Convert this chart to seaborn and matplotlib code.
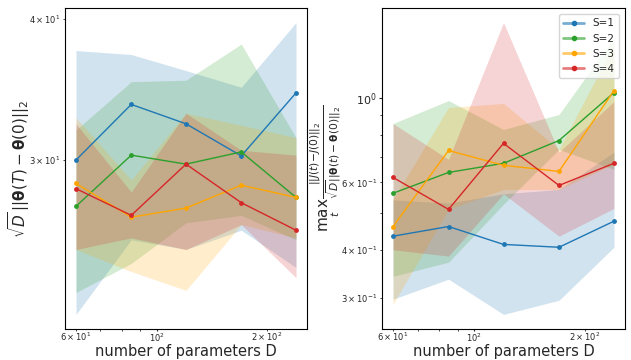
import matplotlib
matplotlib.use("Agg")
import matplotlib.pyplot as plt
import seaborn as sns
import pandas as pd
from matplotlib.lines import Line2D

# ---------------- data ----------------
D = [60, 85, 120, 170, 240]
labels = ["S=1", "S=2", "S=3", "S=4"]
colors = ["#1f77b4", "#2ca02c", "#FFA500", "#d62728"]

# left panel: sqrt(D)||theta(T)-theta(0)||_2
left_s1 = [30.0, 33.6, 32.3, 30.25, 34.4]
left_s2 = [27.3, 30.3, 29.75, 30.5, 27.8]
left_s3 = [28.6, 26.7, 27.2, 28.5, 27.8]
left_s4 = [28.3, 26.8, 29.75, 27.5, 26.0]
left_s1_lo = [21.9, 25.5, 25.0, 26.0, 24.1]
left_s1_hi = [37.5, 37.2, 36.0, 34.8, 39.7]
left_s2_lo = [22.9, 24.3, 26.4, 26.8, 25.5]
left_s2_hi = [31.9, 35.2, 35.3, 38.0, 31.4]
left_s3_lo = [25.0, 23.9, 23.0, 26.3, 25.6]
left_s3_hi = [32.7, 28.8, 33.0, 32.2, 31.4]
left_s4_lo = [25.0, 25.6, 25.0, 26.3, 23.6]
left_s4_hi = [32.3, 28.1, 33.0, 30.6, 30.3]

# right panel: max_t ratio
right_s1 = [0.434, 0.460, 0.413, 0.406, 0.475]
right_s2 = [0.562, 0.637, 0.673, 0.772, 1.03]
right_s3 = [0.460, 0.727, 0.665, 0.641, 1.043]
right_s4 = [0.618, 0.510, 0.759, 0.589, 0.673]
right_s1_lo = [0.297, 0.335, 0.271, 0.295, 0.406]
right_s1_hi = [0.540, 0.530, 0.560, 0.575, 0.720]
right_s2_lo = [0.341, 0.371, 0.526, 0.732, 0.649]
right_s2_hi = [0.855, 0.982, 0.825, 0.903, 1.434]
right_s3_lo = [0.288, 0.510, 0.575, 0.575, 0.670]
right_s3_hi = [0.542, 0.942, 0.965, 0.732, 1.375]
right_s4_lo = [0.400, 0.385, 0.560, 0.434, 0.513]
right_s4_hi = [0.855, 0.689, 1.570, 0.720, 0.976]

left_lines = [left_s1, left_s2, left_s3, left_s4]
left_los = [left_s1_lo, left_s2_lo, left_s3_lo, left_s4_lo]
left_his = [left_s1_hi, left_s2_hi, left_s3_hi, left_s4_hi]
right_lines = [right_s1, right_s2, right_s3, right_s4]
right_los = [right_s1_lo, right_s2_lo, right_s3_lo, right_s4_lo]
right_his = [right_s1_hi, right_s2_hi, right_s3_hi, right_s4_hi]


def long_df(lines):
    rows = []
    for lab, vals in zip(labels, lines):
        for d, v in zip(D, vals):
            rows.append({"D": d, "val": v, "S": lab})
    return pd.DataFrame(rows)


sns.set_style("white")
plt.rcParams["font.family"] = ["DejaVu Sans"]
plt.rcParams["mathtext.fontset"] = "dejavusans"

fig = plt.figure(figsize=(6.31, 3.6), dpi=100)
axL = fig.add_axes([65 / 631, 1 - 329 / 360, 242 / 631, 321 / 360])
axR = fig.add_axes([382 / 631, 1 - 329 / 360, 243 / 631, 321 / 360])
palette = dict(zip(labels, colors))

for ax, lines, los, his in [(axL, left_lines, left_los, left_his),
                            (axR, right_lines, right_los, right_his)]:
    for c, lo, hi in zip(colors, los, his):
        ax.fill_between(D, lo, hi, color=c, alpha=0.2, linewidth=0)
    sns.lineplot(data=long_df(lines), x="D", y="val", hue="S", palette=palette,
                 marker="o", markersize=3.5, markeredgewidth=0, linewidth=1.0,
                 ax=ax, errorbar=None, legend=False)
    ax.set_xscale("log")
    ax.set_yscale("log")
    ax.tick_params(axis="x", which="major", labelsize=6, length=1.5, width=0.8, pad=0.3, bottom=True)
    ax.tick_params(axis="x", which="minor", labelsize=6, length=1.2, width=0.6, pad=0.3, bottom=True)
    ax.tick_params(axis="y", which="minor", labelsize=6, length=1.5, width=0.6, pad=1.5, left=True)
    ax.tick_params(axis="y", which="major", labelsize=8, length=2.5, width=0.8, pad=1.5, left=True)
    ax.set_xlabel("number of parameters D", fontsize=10.5)
    ax.xaxis.set_label_coords(0.5, -0.048)
    for sp in ax.spines.values():
        sp.set_color("black")
        sp.set_linewidth(0.8)

axL.set_ylabel(r"$\sqrt{D}\,||\mathbf{\theta}(T) - \mathbf{\theta}(0)||_2$", fontsize=11)
axL.yaxis.set_label_coords(-0.138, 0.5)
axR.set_ylabel(r"$\max_t \frac{||J(t) - J(0)||_2}{\sqrt{D}||\mathbf{\theta}(t) - \mathbf{\theta}(0)||_2}$",
               fontsize=11)
axR.yaxis.set_label_coords(-0.16, 0.5)

handles = [(Line2D([], [], color=c, lw=2, alpha=0.6),
            Line2D([], [], color=c, lw=0, marker="o", markersize=3))
           for c in colors]
axR.legend(handles, labels, loc="upper right", fontsize=7.5, frameon=True,
           borderaxespad=0.6)

fig.savefig("out.png", dpi=100)
